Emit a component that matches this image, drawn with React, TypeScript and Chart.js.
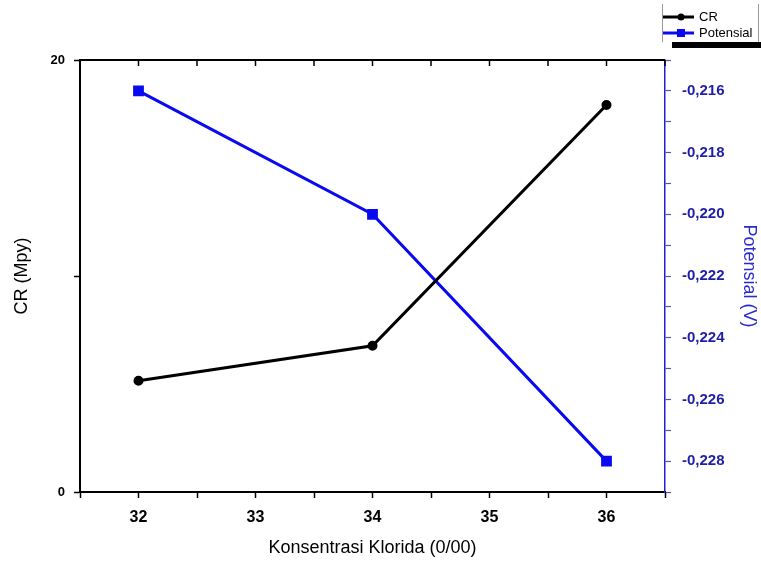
import React, { useEffect, useRef } from "react";
import { Chart, registerables } from "chart.js";

Chart.register(...registerables);

const konsentrasi = [32, 34, 36];
const crValues = [5.15, 6.77, 17.92];
const potensialValues = [-0.216, -0.22, -0.228];
const seriesNames = ["CR", "Potensial"];
const xTitle = "Konsentrasi Klorida (0/00)";
const yTitle = "CR (Mpy)";
const y1Title = "Potensial (V)";

const FONT = "'Liberation Sans', Arial, Helvetica, sans-serif";
const BLUE = "#0a0af0";
const NAVY = "#1e1ea8";

const frameAndLegend = {
  id: "frameAndLegend",
  afterDraw(chart: any) {
    const ctx = chart.ctx;
    const { left, right, top } = chart.chartArea;
    const xs = chart.scales.x;
    ctx.save();
    // top border with inward ticks
    ctx.strokeStyle = "#000";
    ctx.lineWidth = 2;
    ctx.beginPath();
    ctx.moveTo(left - 1, top);
    ctx.lineTo(right, top);
    ctx.stroke();
    ctx.lineWidth = 1.5;
    xs.ticks.forEach((t: any) => {
      const px = xs.getPixelForValue(t.value);
      ctx.beginPath();
      ctx.moveTo(px, top);
      ctx.lineTo(px, top + 6);
      ctx.stroke();
    });

    // legend
    const lx = 662;
    const lw = 96;
    ctx.strokeStyle = "#999";
    ctx.lineWidth = 1;
    ctx.beginPath();
    ctx.moveTo(lx + 0.5, 4);
    ctx.lineTo(lx + 0.5, 42);
    ctx.moveTo(lx + lw + 0.5, 4);
    ctx.lineTo(lx + lw + 0.5, 42);
    ctx.stroke();
    ctx.fillStyle = "#000";
    ctx.fillRect(lx + 10, 42, lw - 7, 6);

    const items = [
      { name: seriesNames[0], color: "#000", y: 17, shape: "circle" },
      { name: seriesNames[1], color: BLUE, y: 33, shape: "square" },
    ];
    items.forEach((it) => {
      ctx.strokeStyle = it.color;
      ctx.fillStyle = it.color;
      ctx.lineWidth = 3;
      ctx.beginPath();
      ctx.moveTo(lx + 1, it.y);
      ctx.lineTo(lx + 32, it.y);
      ctx.stroke();
      if (it.shape === "circle") {
        ctx.beginPath();
        ctx.arc(lx + 19, it.y, 3.5, 0, Math.PI * 2);
        ctx.fill();
      } else {
        ctx.fillRect(lx + 15, it.y - 4, 8, 8);
      }
      ctx.fillStyle = "#000";
      ctx.font = `13px ${FONT}`;
      ctx.textBaseline = "middle";
      ctx.textAlign = "left";
      ctx.fillText(it.name, lx + 37, it.y);
    });
    ctx.restore();
  },
};

export default function App() {
  const ref = useRef<HTMLCanvasElement>(null);
  useEffect(() => {
    if (!ref.current) return;
    const chart = new Chart(ref.current, {
      type: "line",
      data: {
        datasets: [
          {
            label: seriesNames[0],
            data: konsentrasi.map((x, i) => ({ x, y: crValues[i] })),
            borderColor: "#000",
            backgroundColor: "#000",
            borderWidth: 3,
            pointRadius: 3.5,
            pointStyle: "circle",
            yAxisID: "y",
          },
          {
            label: seriesNames[1],
            data: konsentrasi.map((x, i) => ({ x, y: potensialValues[i] })),
            borderColor: BLUE,
            backgroundColor: BLUE,
            borderWidth: 3,
            pointRadius: 5.5,
            pointStyle: "rect",
            yAxisID: "y1",
          },
        ],
      },
      options: {
        responsive: false,
        animation: false,
        layout: { padding: { top: 60, left: 0, right: 0, bottom: 0 } },
        plugins: { legend: { display: false }, tooltip: { enabled: false } },
        scales: {
          x: {
            type: "linear",
            position: "bottom",
            min: 31.5,
            max: 36.5,
            afterFit: (s: any) => {
              s.height = 71;
            },
            ticks: {
              stepSize: 0.5,
              maxTicksLimit: 100,
              autoSkip: false,
              maxRotation: 0,
              padding: 10,
              color: "#000",
              font: { family: FONT, size: 16, weight: "bold" },
              callback: (v: any) => (Number.isInteger(Number(v)) ? String(v) : ""),
            },
            grid: {
              drawOnChartArea: false,
              drawTicks: true,
              tickLength: 6,
              tickColor: "#000",
              tickWidth: 1.5,
            },
            border: { display: true, color: "#000", width: 2 },
            title: {
              display: true,
              text: xTitle,
              color: "#000",
              font: { family: FONT, size: 18 },
              padding: { top: 0, bottom: 4 },
            },
          },
          y: {
            type: "linear",
            position: "left",
            min: 0,
            max: 20,
            afterFit: (s: any) => {
              s.width = 80;
            },
            ticks: {
              stepSize: 10,
              maxTicksLimit: 100,
              padding: 9,
              color: "#000",
              font: { family: FONT, size: 13, weight: "bold" },
              callback: (v: any) => (Number(v) === 10 ? "" : String(v)),
            },
            grid: {
              drawOnChartArea: false,
              drawTicks: true,
              tickLength: 6,
              tickColor: "#000",
              tickWidth: 1.5,
            },
            border: { display: true, color: "#000", width: 2 },
            title: {
              display: true,
              text: yTitle,
              color: "#000",
              font: { family: FONT, size: 18 },
              padding: { top: 11, bottom: 0 },
            },
          },
          y1: {
            type: "linear",
            position: "right",
            min: -0.229,
            max: -0.215,
            afterFit: (s: any) => {
              s.width = 96;
            },
            ticks: {
              stepSize: 0.001,
              maxTicksLimit: 100,
              autoSkip: false,
              padding: 11,
              color: NAVY,
              font: { family: FONT, size: 15, weight: "bold" },
              callback: (v: any) => {
                const k = Math.round(-Number(v) * 1000);
                return k % 2 === 0 ? "-0," + String(k).padStart(3, "0") : "";
              },
            },
            grid: {
              drawOnChartArea: false,
              drawTicks: true,
              tickLength: 6,
              tickColor: "#5555aa",
              tickWidth: 1.2,
            },
            border: { display: true, color: "#2020d0", width: 1.5 },
            title: {
              display: true,
              text: y1Title,
              color: "#2a2ad0",
              font: { family: FONT, size: 18 },
              padding: { top: 1, bottom: 0 },
            },
          },
        },
      },
      plugins: [frameAndLegend],
    } as any);
    return () => chart.destroy();
  }, []);
  return (
    <canvas
      ref={ref}
      width={761}
      height={563}
      style={{ position: "absolute", left: 0, top: 0, width: 761, height: 563 }}
    />
  );
}
